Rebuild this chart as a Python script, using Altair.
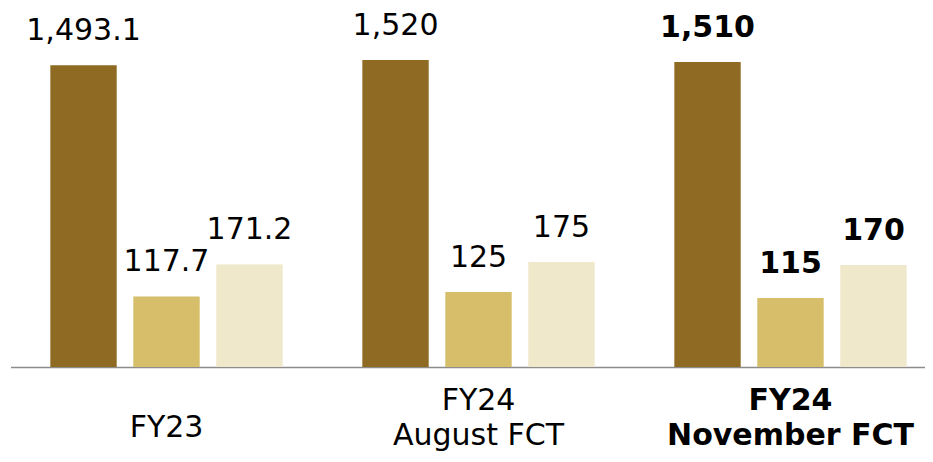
import altair as alt
import pandas as pd

groups = ["FY23", "FY24|August FCT", "FY24|November FCT"]
series = ["Net sales", "Operating income", "Other"]
net_sales = [1493.1, 1520, 1510]
op_income = [117.7, 125, 115]
other = [171.2, 175, 170]
colors = ["#8E6A22", "#D6BE6A", "#F0E8CA"]
highlight = "FY24|November FCT"


def fmt(v):
    return f"{v:,.1f}" if v != int(v) else f"{int(v):,}"


rows = []
for i, g in enumerate(groups):
    for s, vals in zip(series, [net_sales, op_income, other]):
        rows.append({"group": g, "series": s, "value": vals[i], "label": fmt(vals[i])})
df = pd.DataFrame(rows)

x_enc = alt.X(
    "group:N",
    sort=groups,
    title=None,
    scale=alt.Scale(domain=groups, range=[0.5, 936.5], paddingInner=0, paddingOuter=0),
    axis=alt.Axis(
        labelExpr="split(datum.label, '|')",
        labelAngle=0,
        labelFont="DejaVu Sans",
        labelFontSize=30,
        labelColor="#000000",
        labelLineHeight=35,
        labelBaseline="middle",
        labelPadding=alt.condition(
            alt.datum.value == groups[0], alt.value(60), alt.value(33)
        ),
        labelLimit=500,
        labelOverlap=False,
        ticks=False,
        tickSize=0,
        domainColor="#8c8c8c",
        domainWidth=1.5,
        grid=False,
        labelFontWeight=alt.condition(
            alt.datum.value == highlight, alt.value("bold"), alt.value("normal")
        ),
    ),
)
xo_enc = alt.XOffset(
    "series:N",
    sort=series,
    scale=alt.Scale(domain=series, paddingInner=0.2, paddingOuter=0.48),
)
color_enc = alt.Color(
    "series:N", scale=alt.Scale(domain=series, range=colors), legend=None
)

base = alt.Chart(df)

y_big = alt.Y("value:Q", scale=alt.Scale(domain=[0, 1777]), axis=None)
y_small = alt.Y("value:Q", scale=alt.Scale(domain=[0, 599]), axis=None)

is_big = alt.datum.series == series[0]
is_hl = alt.datum.group == highlight

text_props = dict(
    dy=-25, baseline="alphabetic", align="center", fontSize=30, font="DejaVu Sans", color="#000000"
)

layers = []
for big_flag, y_enc in [(True, y_big), (False, y_small)]:
    sel = is_big if big_flag else ~is_big
    part = base.transform_filter(sel)
    layers.append(part.mark_bar().encode(x=x_enc, xOffset=xo_enc, y=y_enc, color=color_enc))
    layers.append(
        part.transform_filter(~is_hl)
        .mark_text(fontWeight="normal", **text_props)
        .encode(x=x_enc, xOffset=xo_enc, y=y_enc, text="label:N")
    )
    layers.append(
        part.transform_filter(is_hl)
        .mark_text(fontWeight="bold", **text_props)
        .encode(x=x_enc, xOffset=xo_enc, y=y_enc, text="label:N")
    )

chart = (
    alt.layer(*layers)
    .resolve_scale(y="independent")
    .properties(
        width=915,
        height=359,
        autosize=alt.AutoSizeParams(type="none"),
        padding={"left": 2, "top": 0, "right": 0, "bottom": 87},
        background="white",
    )
    .configure_view(stroke=None)
)

chart.save("out.html", embed_options={"renderer": "svg", "actions": False})
